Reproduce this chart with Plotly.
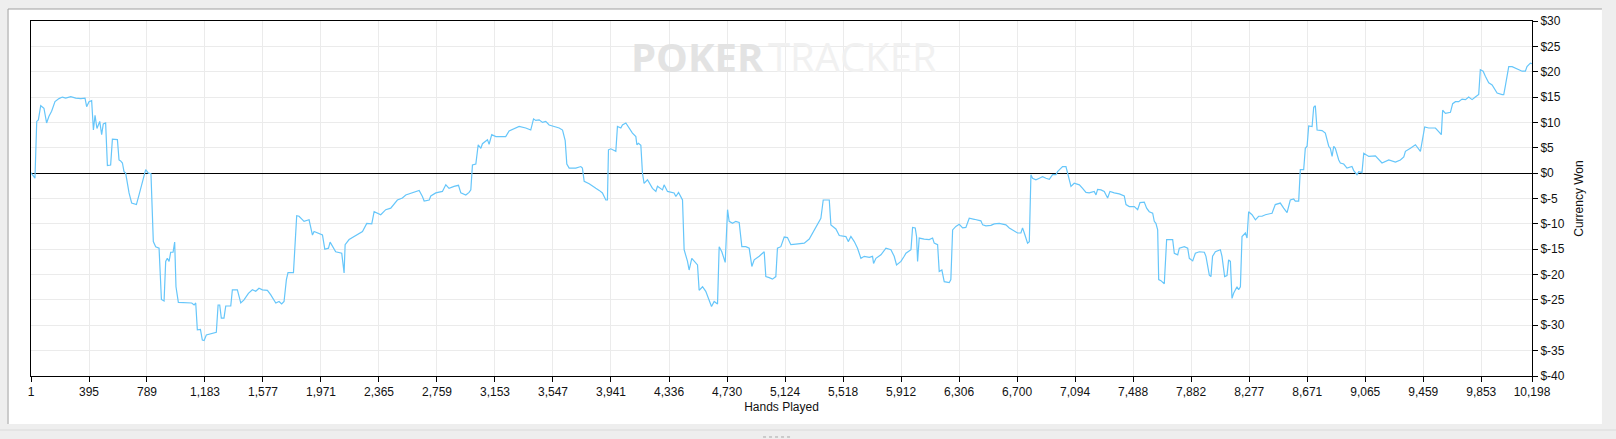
import plotly.graph_objects as go

# bankroll graph: cumulative winnings vs hands played
hands = [
    1, 3, 28, 40, 51, 67, 89, 107, 123, 141, 164, 191, 214, 237, 271, 305, 339, 368,
    379, 395, 413, 425, 436, 449, 468, 481, 492, 508, 520, 542, 554, 588, 599, 610,
    622, 633, 644, 667, 685, 717, 735, 758, 780, 798, 816, 832, 848, 871, 887, 905,
    916, 927, 939, 950, 966, 977, 986, 1002, 1052, 1093, 1109, 1120, 1131, 1152, 1165,
    1177, 1192, 1233, 1260, 1272, 1283, 1294, 1312, 1324, 1358, 1369, 1403, 1426, 1448,
    1478, 1505, 1528, 1550, 1573, 1607, 1630, 1664, 1686, 1704, 1720, 1736, 1747, 1784,
    1806, 1822, 1856, 1890, 1913, 1924, 1981, 1997, 2022, 2033, 2071, 2112, 2128, 2135,
    2162, 2196, 2230, 2253, 2282, 2316, 2332, 2355, 2377, 2411, 2445, 2490,
    2524, 2547, 2592, 2638, 2660, 2672, 2706, 2717, 2751, 2796, 2819, 2841, 2875, 2905,
    2921, 2955, 2977, 2989, 3000, 3023, 3039, 3057, 3068, 3102, 3113, 3131, 3159, 3226,
    3249, 3294, 3317, 3362, 3396, 3415, 3430, 3453, 3476, 3498, 3521, 3555, 3589, 3612,
    3630, 3641, 3657, 3702, 3736, 3747, 3759, 3793, 3815, 3838, 3861, 3883, 3906, 3917,
    3924, 3940, 3974, 3985, 4008, 4019, 4042, 4065, 4087, 4110, 4117, 4128, 4144, 4155,
    4166, 4189, 4223, 4246, 4257, 4291, 4302, 4325, 4348, 4370, 4382, 4400, 4427, 4438,
    4461, 4472, 4490, 4529, 4540, 4563, 4585, 4608, 4624, 4642, 4665, 4676, 4694, 4717,
    4733, 4744, 4767, 4789, 4812, 4830, 4857, 4880, 4898, 4914, 4948, 4982, 4993, 5016,
    5038, 5061, 5072, 5095, 5118, 5140, 5163, 5197, 5254,
    5288, 5310, 5333, 5356, 5367, 5383, 5412, 5424, 5435, 5469, 5492, 5537, 5553, 5571,
    5594, 5616, 5639, 5662, 5696, 5718, 5725, 5741, 5775, 5809, 5843, 5865, 5881, 5911,
    5933, 5945, 5979, 5990, 6008, 6017, 6024, 6035, 6069, 6103, 6126, 6137, 6160, 6171,
    6189, 6205, 6239, 6250, 6262, 6284, 6307, 6330, 6352, 6375, 6409, 6454, 6466, 6488,
    6522, 6545, 6579, 6624, 6647, 6669, 6703, 6726, 6737, 6749, 6771, 6783, 6794, 6805,
    6828, 6851, 6873, 6896, 6919, 6941, 6964, 6975, 6998, 7009, 7032, 7043, 7055, 7066,
    7088, 7123, 7145, 7168, 7190, 7224, 7236, 7247, 7270, 7292, 7315, 7331, 7360, 7394,
    7428, 7440, 7462, 7496, 7519, 7535, 7564, 7580, 7598, 7621, 7632, 7643, 7655, 7662,
    7677, 7700, 7716, 7745, 7757, 7768, 7791, 7802, 7836, 7859, 7870, 7893, 7911, 7938,
    7972, 7983, 8006, 8017, 8028, 8047,
    8081, 8092, 8110, 8126, 8137, 8149, 8160, 8171, 8183, 8194, 8205, 8217, 8228, 8251,
    8262, 8273, 8296, 8319, 8341, 8364, 8387, 8409, 8432, 8454, 8488, 8511, 8534, 8556,
    8579, 8590, 8613, 8624, 8647, 8658, 8670, 8681, 8704, 8715, 8726, 8738, 8772, 8794,
    8817, 8828, 8840, 8851, 8862, 8885, 8896, 8919, 8941, 8975, 8987, 9009, 9021, 9043,
    9055, 9089, 9134, 9179, 9202, 9225, 9270, 9304, 9327, 9338, 9372, 9394, 9406, 9440,
    9451, 9469, 9496, 9542, 9564, 9582, 9591, 9610, 9644, 9659, 9678, 9700, 9723, 9746,
    9768, 9791, 9813, 9836, 9847, 9866, 9881, 9904, 9927, 9938, 9961, 9995, 10006, 10017,
    10029, 10040, 10063, 10085, 10131, 10153, 10164, 10187, 10198,
]
won = [
    0.0, 0.0, -1.0, 10.2, 10.5, 13.3, 12.8, 9.9, 11.2, 12.2, 14.1, 14.7, 15.0, 14.8, 15.1, 14.8, 14.7, 14.8,
    13.1, 14.1, 14.3, 8.5, 11.4, 8.8, 10.2, 7.6, 9.7, 9.9, 1.5, 1.6, 6.7, 6.6, 2.6, 2.4,
    2.0, 0.3, 0.0, -3.9, -5.9, -6.2, -4.3, -1.6, 0.7, 0.0, -0.1, -13.5, -14.5, -14.8, -24.9, -25.2,
    -17.4, -16.8, -17.4, -15.6, -15.6, -13.6, -22.4, -25.5, -25.5, -25.6, -26.0, -25.6, -30.9, -30.8, -32.9,
    -33.0, -31.9, -31.6, -31.4, -26.0, -26.0, -28.6, -28.6, -26.2, -26.2, -23.0, -23.0, -25.6, -25.0,
    -23.7, -23.0, -23.3, -22.7, -23.0, -23.1, -24.0, -25.6, -25.3, -25.8, -25.3, -21.0, -19.6, -19.6,
    -8.4, -8.5, -9.5, -9.2, -12.2, -11.5, -12.2, -15.0, -14.8, -13.6, -15.5, -15.8, -19.7, -14.1,
    -13.1, -12.5, -11.8, -11.5, -9.9, -10.0, -7.6, -7.9, -8.2, -7.2, -6.9, -5.3,
    -4.9, -4.3, -3.9, -3.4, -4.6, -5.5, -5.3, -4.5, -3.9, -3.6, -2.3, -3.0, -2.6, -2.4,
    -3.9, -4.3, -3.8, -3.3, 1.6, 1.8, 5.6, 4.9, 5.8, 6.6, 5.7, 7.6, 7.2, 7.2,
    8.3, 8.9, 9.2, 8.9, 8.5, 10.7, 10.4, 10.5, 10.0, 10.2, 9.5, 9.2, 8.9, 8.5,
    6.4, 1.8, 1.0, 1.0, 1.3, 1.0, -1.6, -2.1, -2.6, -3.0, -3.4, -3.9, -5.3, -5.3,
    4.6, 4.8, 4.3, 9.2, 8.9, 9.5, 9.9, 8.9, 7.9, 7.2, 5.6, 5.9, 5.5, 0.0,
    -2.0, -1.3, -3.0, -3.6, -2.6, -3.3, -2.3, -3.6, -3.8, -3.9, -4.6, -3.8, -5.3, -15.1,
    -17.4, -19.1, -16.8, -18.1, -23.1, -22.4, -23.3, -25.3, -26.3, -25.3, -25.8, -14.5, -15.5, -17.6,
    -7.2, -9.5, -9.9, -9.5, -9.7, -14.5, -14.5, -14.8, -18.4, -17.1, -16.4, -15.5, -20.4, -20.6,
    -20.9, -20.4, -14.8, -14.5, -12.6, -12.7, -14.1, -14.0, -13.8,
    -13.0, -11.8, -10.5, -9.2, -8.9, -5.3, -5.3, -5.3, -10.2, -11.0, -12.3, -12.5, -13.5, -12.5,
    -13.5, -14.8, -16.8, -16.4, -16.6, -16.4, -17.8, -16.8, -16.1, -14.8, -15.1, -16.4, -18.1, -17.4,
    -16.4, -15.8, -15.1, -10.7, -10.8, -12.5, -17.4, -12.8, -13.0, -13.1, -12.8, -13.8, -14.1, -19.4,
    -19.1, -21.4, -21.6, -21.0, -11.2, -10.5, -10.1, -10.8, -10.7, -8.9, -9.1, -9.4, -10.2, -10.4,
    -10.3, -10.0, -9.9, -10.2, -10.8, -11.2, -11.8, -11.8, -10.8, -11.8, -13.8, -13.5, -0.3, -1.0,
    -1.3, -1.0, -0.7, -1.0, -1.2, -0.3, -0.3, 0.3, 1.0, 1.3, 1.3, 0.0, -1.0, -2.6,
    -2.0, -2.3, -3.0, -3.8, -3.9, -3.6, -4.3, -3.2, -3.3, -3.6, -4.9, -3.6, -3.9, -4.1,
    -4.5, -6.2, -6.6, -6.6, -7.2, -5.8, -5.7, -6.9, -7.6, -7.9, -9.5, -9.9, -11.2, -21.0,
    -21.2, -21.8, -13.1, -13.0, -13.1, -15.8, -16.1, -14.8, -14.5, -14.8, -16.8, -17.3, -15.8, -15.5,
    -15.6, -16.4, -20.1, -20.4, -16.4, -15.5,
    -15.1, -16.4, -20.4, -20.2, -17.1, -17.4, -24.7, -23.7, -23.0, -22.4, -23.0, -22.4, -12.5, -11.8,
    -12.8, -7.6, -8.2, -9.2, -8.5, -8.5, -8.2, -8.0, -7.9, -6.2, -5.9, -6.9, -7.8, -5.3,
    -5.1, -5.5, -5.5, 0.7, 0.7, 4.9, 5.3, 9.3, 9.2, 13.0, 13.3, 8.5, 8.4, 7.9,
    5.3, 4.9, 3.3, 5.3, 4.9, 2.6, 2.0, 1.8, 1.0, 1.3, 0.5, -0.3, 0.3, 0.1,
    3.9, 3.3, 3.4, 2.0, 2.3, 2.6, 2.2, 2.6, 3.2, 4.3, 4.9, 5.3, 5.6, 4.3,
    5.9, 9.1, 8.9, 8.9, 8.2, 7.6, 12.4, 11.8, 12.0, 13.7, 14.1, 14.1, 14.6, 14.5,
    15.0, 14.5, 15.0, 15.5, 20.4, 20.1, 19.1, 17.8, 17.4, 16.8, 15.8, 15.5, 15.5, 17.2,
    19.1, 21.0, 21.0, 20.7, 20.1, 20.1, 21.0, 21.7, 21.6,
]

x_ticks = [1, 395, 789, 1183, 1577, 1971, 2365, 2759, 3153, 3547, 3941, 4336, 4730,
           5124, 5518, 5912, 6306, 6700, 7094, 7488, 7882, 8277, 8671, 9065, 9459,
           9853, 10198]
y_ticks = list(range(-40, 31, 5))
y_labels = ['$' + str(v) for v in y_ticks]

FONT = 'Liberation Sans, Arial, sans-serif'

fig = go.Figure()
fig.add_trace(go.Scatter(
    x=hands, y=won, mode='lines',
    line=dict(color='#66c6fa', width=1.2),
    showlegend=False,
))

fig.update_layout(
    width=1616, height=439,
    margin=dict(l=31, r=84, t=21, b=63),
    paper_bgcolor='#eeeeee',
    plot_bgcolor='white',
    font=dict(family=FONT, size=12, color='#111111'),
    xaxis=dict(
        range=[1, 10198], tickvals=x_ticks, tickformat=',d',
        showgrid=True, gridcolor='#ebebeb', gridwidth=1,
        showline=True, linecolor='black', linewidth=1, mirror=True,
        ticks='outside', ticklen=5, tickcolor='black',
        zeroline=False,
        title=dict(text='Hands Played', font=dict(size=12), standoff=4),
    ),
    yaxis=dict(
        range=[-40, 30], side='right', tickvals=y_ticks, ticktext=y_labels,
        showgrid=True, gridcolor='#ebebeb', gridwidth=1,
        showline=True, linecolor='black', linewidth=1, mirror=True,
        ticks='outside', ticklen=5, tickcolor='black',
        zeroline=True, zerolinecolor='black', zerolinewidth=1,
        title=dict(text='Currency Won', font=dict(size=12), standoff=10),
    ),
)

# white panel behind the chart, with the sunken grey edge top/left
fig.add_shape(type='rect', xref='paper', yref='paper', layer='below',
              x0=-0.0153, x1=1.0466, y0=-0.1352, y1=1.0338,
              fillcolor='white', line=dict(width=0))
fig.add_shape(type='line', xref='paper', yref='paper', layer='below',
              x0=-0.0153, x1=1.0466, y0=1.0338, y1=1.0338,
              line=dict(color='#a0a0a0', width=1))
fig.add_shape(type='line', xref='paper', yref='paper', layer='below',
              x0=-0.0153, x1=-0.0153, y0=-0.1352, y1=1.0338,
              line=dict(color='#a0a0a0', width=1))
fig.add_shape(type='line', xref='paper', yref='paper', layer='below',
              x0=-0.0207, x1=1.0560, y0=-0.1521, y1=-0.1521,
              line=dict(color='#dadada', width=1))

# splitter grip at the bottom (dotted)
fig.add_shape(type='line', xref='paper', yref='paper',
              x0=0.4877, x1=0.507, y0=-0.1718, y1=-0.1718,
              line=dict(color='#a8a8a8', width=1, dash='dot'))

# watermark
fig.add_annotation(xref='paper', yref='paper', x=0.490, y=0.899,
                   text='<b>POKER</b>', showarrow=False, xanchor='right', yanchor='middle',
                   font=dict(family='Open Sans, sans-serif', size=40, color='#e3e3e3'))
fig.add_annotation(xref='paper', yref='paper', x=0.490, y=0.899,
                   text='TRACKER', showarrow=False, xanchor='left', yanchor='middle',
                   font=dict(family='Open Sans, sans-serif', size=40, color='#f1f1f1'))

# drop the default page margin so the figure sits at the window's corner
fig.write_html('out.html', config={'displayModeBar': False},
               post_script="document.body.style.margin='0';")
